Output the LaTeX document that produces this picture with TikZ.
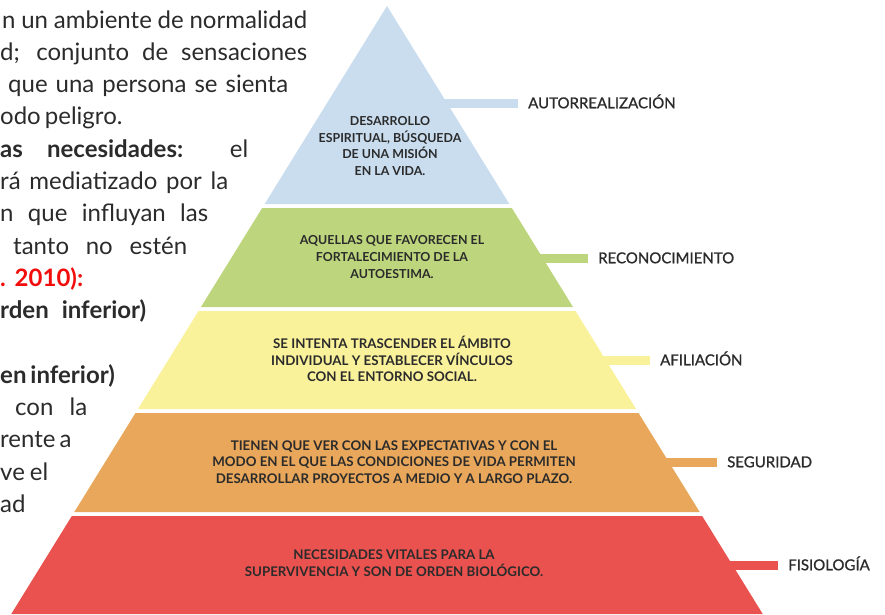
\documentclass[tikz,border=0pt]{standalone}
\usepackage{fontspec}
\setmainfont{Lato}
\newfontfamily\labelfont[FakeBold=1]{Lato}
\usetikzlibrary{positioning}

\definecolor{autocol}{HTML}{C9DDEF}
\definecolor{recocol}{HTML}{BDD57C}
\definecolor{aficol}{HTML}{FAF19B}
\definecolor{segcol}{HTML}{E8A75B}
\definecolor{fiscol}{HTML}{E9524E}
\definecolor{inkcol}{HTML}{2B2B2B}
\definecolor{citecol}{HTML}{F20D0D}

\begin{document}
\begin{tikzpicture}[x=1pt,y=-1pt,
    layer/.style={inner sep=0pt, align=center, text=inkcol,
      font=\bfseries\fontsize{#1}{16.7}\selectfont},
    layer/.default=13.3,
    lbl/.style={anchor=west, inner sep=0pt, text=inkcol, text height=10.5pt,
      text depth=0pt, font=\labelfont\fontsize{15}{17}\selectfont},
    bar/.style={line width=9pt, shorten >=10pt},
    body/.style={anchor=base west, inner sep=0pt, text=inkcol,
      font=\fontsize{24}{28}\selectfont}]

  \useasboundingbox (0,0) rectangle (885,614);

  % pyramid layers, apex at (387,6)
  \foreach \ytop/\ybot/\col in {6/204/autocol, 208/307/recocol,
      311/409/aficol, 413/512/segcol, 516/614/fiscol}
    \fill[\col] ({387-0.618*(\ytop-6)},\ytop) -- ({387+0.618*(\ytop-6)},\ytop)
      -- ({387+0.618*(\ybot-6)},\ybot) -- ({387-0.618*(\ybot-6)},\ybot) -- cycle;

  \node[layer=12.4] (desarrollo) at (390,146)
    {DESARROLLO\\ESPIRITUAL, BÚSQUEDA\\DE UNA MISIÓN\\EN LA VIDA.};
  \node[layer=12.4] (autoestima) at (392,257)
    {AQUELLAS QUE FAVORECEN EL\\FORTALECIMIENTO DE LA\\AUTOESTIMA.};
  \node[layer] (vinculos) at (392,359)
    {SE INTENTA TRASCENDER EL ÁMBITO\\INDIVIDUAL Y ESTABLECER VÍNCULOS\\CON EL ENTORNO SOCIAL.};
  \node[layer] (proyectos) at (394,462)
    {TIENEN QUE VER CON LAS EXPECTATIVAS Y CON EL\\MODO EN EL QUE LAS CONDICIONES DE VIDA PERMITEN\\DESARROLLAR PROYECTOS A MEDIO Y A LARGO PLAZO.};
  \node[layer] (vitales) at (394,563)
    {NECESIDADES VITALES PARA LA\\SUPERVIVENCIA Y SON DE ORDEN BIOLÓGICO.};

  % labels on the right
  \foreach \name/\yy/\xx/\col/\txt in {autorrealizacion/103/528/autocol/AUTORREALIZACIÓN,
      reconocimiento/258/598/recocol/RECONOCIMIENTO,
      afiliacion/360/660/aficol/AFILIACIÓN,
      seguridad/462/727/segcol/SEGURIDAD,
      fisiologia/565/788/fiscol/FISIOLOGÍA} {
    \coordinate (\name-edge) at ({387+0.618*(\yy-6)-4},\yy);
    \node[lbl] (\name) at (\xx,\yy) {\txt};
    \draw[bar, \col] (\name-edge) -- (\name.west);
  }

  % cut text on the left
  \foreach \i/\xa/\xb/\txt in {
      0/2/307/{n un ambiente de normalidad},
      1/0/307/{d; conjunto de sensaciones},
      2/8/288/{que una persona se sienta},
      3/0/117/{odo peligro.},
      4/0/248/{\textbf{as necesidades:} el},
      5/0/228/{rá mediatizado por la},
      6/0/208/{n que influyan las},
      7/13/187/{tanto no estén},
      8/0/83/{\textcolor{citecol}{\textbf{. 2010):}}},
      9/0/146/{\textbf{rden inferior)}},
      11/0/108/{\textbf{en inferior)}},
      12/15/87/{con la},
      13/0/68/{rente a},
      14/0/48/{ve el},
      15/0/27/{ad}}
    \node[body] (body\i) at (\xa,28+32.3*\i)
      {\makebox[\dimexpr\xb pt-\xa pt\relax][s]{\txt}};

\end{tikzpicture}
\end{document}
